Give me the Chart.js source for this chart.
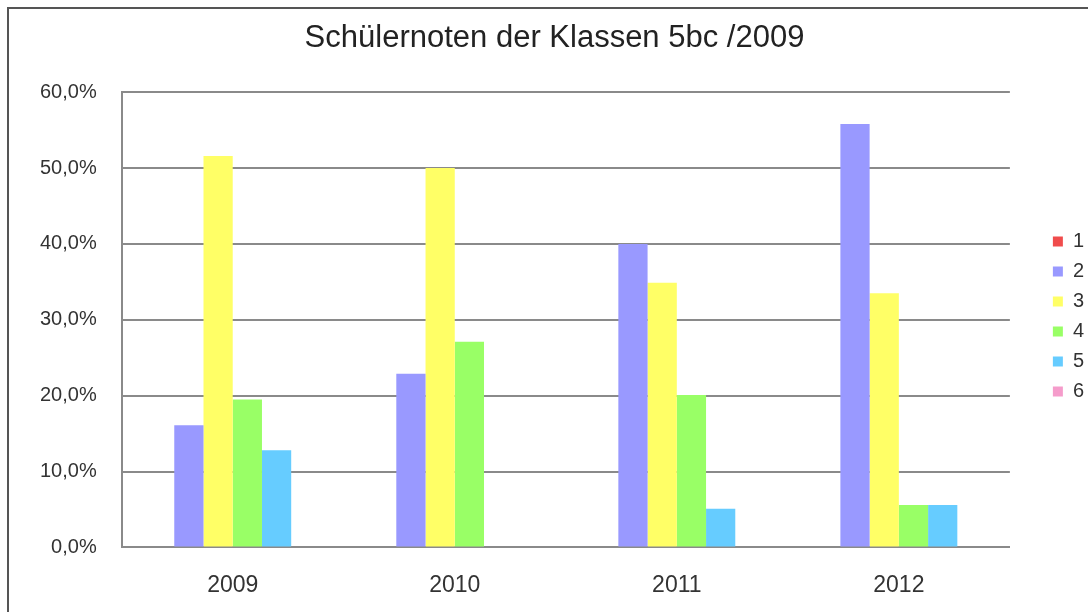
<!DOCTYPE html>
<html>
<head>
<meta charset="utf-8">
<script src="https://cdn.jsdelivr.net/npm/chart.js@4"></script>
<style>
    body { margin: 0; background: #fff; }
    #wrap { position: relative; width: 1088px; height: 612px; }
    #frame { position: absolute; left: 7px; top: 7px; right: 0; bottom: 0; border-top: 2px solid #555; border-left: 2px solid #555; }
    canvas { position: absolute; left: 0; top: 0; }
</style>
</head>
<body>
<div id="wrap">
    <div id="frame"></div>
    <canvas id="notenChart" width="1088" height="612"></canvas>
</div>
<script>
// Jahre (Kategorien)
const years = ['2009', '2010', '2011', '2012'];

// Anteil je Note in Prozent
const note1 = [0, 0, 0, 0];
const note2 = [16.1, 22.9, 40.0, 55.8];
const note3 = [51.6, 50.0, 34.9, 33.5];
const note4 = [19.5, 27.1, 20.1, 5.6];
const note5 = [12.8, 0, 5.1, 5.6];
const note6 = [0, 0, 0, 0];

const yTicks = [0, 10, 20, 30, 40, 50, 60];

const font = 'Liberation Sans, Arial, sans-serif';

function makeSet(label, data, color) {
    return {
        label: label,
        data: data,
        backgroundColor: color,
        borderWidth: 0,
        categoryPercentage: 0.79,
        barPercentage: 1.0
    };
}

const ctx = document.getElementById('notenChart').getContext('2d');
new Chart(ctx, {
    type: 'bar',
    data: {
        labels: years,
        datasets: [
            makeSet('1', note1, '#f04c4c'),
            makeSet('2', note2, '#9999ff'),
            makeSet('3', note3, '#ffff66'),
            makeSet('4', note4, '#99ff66'),
            makeSet('5', note5, '#66ccff'),
            makeSet('6', note6, '#f59ccb')
        ]
    },
    options: {
        responsive: false,
        animation: false,
        layout: {
            padding: { left: 15, right: -6, top: 18, bottom: -3 }
        },
        plugins: {
            title: {
                display: true,
                text: 'Schülernoten der Klassen 5bc /2009',
                color: '#222',
                font: { family: font, size: 31, weight: 'normal' },
                padding: { top: 2, bottom: 35 }
            },
            legend: {
                position: 'right',
                labels: {
                    color: '#333',
                    font: { family: font, size: 20 },
                    boxWidth: 10,
                    boxHeight: 10,
                    padding: 10
                }
            },
            tooltip: { enabled: false }
        },
        scales: {
            x: {
                grid: { display: false },
                border: { display: true, color: '#8a8a8a', width: 2 },
                ticks: {
                    color: '#333',
                    font: { family: font, size: 23 },
                    padding: 16
                }
            },
            y: {
                min: yTicks[0],
                max: yTicks[yTicks.length - 1],
                afterBuildTicks: (scale) => {
                    scale.ticks = yTicks.map(v => ({ value: v }));
                },
                grid: { color: '#8a8a8a', lineWidth: 2, drawTicks: false },
                border: { display: true, color: '#8a8a8a', width: 2 },
                ticks: {
                    color: '#333',
                    font: { family: font, size: 20 },
                    padding: 25,
                    callback: (v) => v.toFixed(1).replace('.', ',') + '%'
                }
            },
            // leerer Abstand zwischen Diagramm und Legende
            gap: {
                type: 'linear',
                position: 'right',
                display: true,
                grid: { display: false },
                border: { display: false },
                ticks: { display: false },
                afterFit: (scale) => {
                    scale.width = 33;
                }
            }
        }
    }
});
</script>
</body>
</html>
